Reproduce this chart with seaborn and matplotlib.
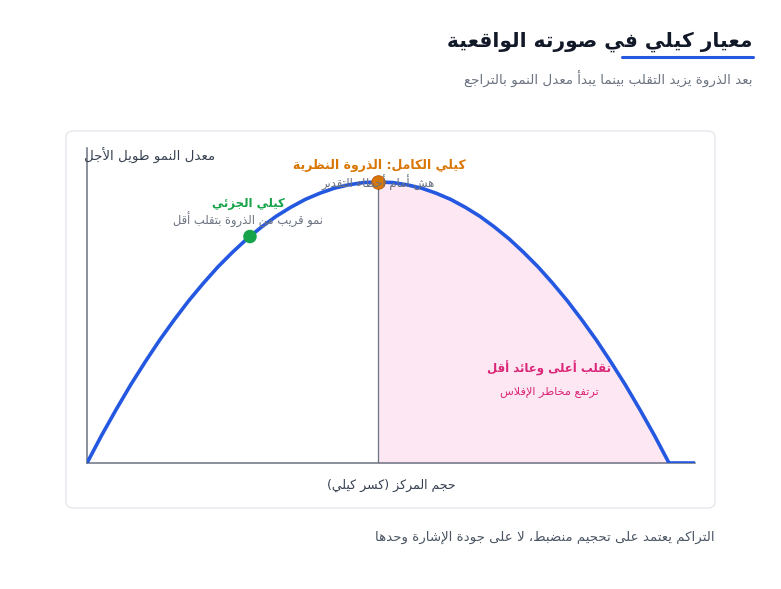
import matplotlib
matplotlib.use("Agg")
import matplotlib.pyplot as plt
import seaborn as sns
import pandas as pd
from matplotlib.patches import FancyBboxPatch

# ---- data ----
kelly_fraction = [0.0, 0.05, 0.1, 0.15, 0.2, 0.25, 0.3, 0.35, 0.4, 0.45,
                  0.5, 0.55, 0.6, 0.65, 0.7, 0.75, 0.8, 0.85, 0.9, 0.95,
                  1.0, 1.05, 1.1, 1.15, 1.2, 1.25, 1.3, 1.35, 1.4, 1.45,
                  1.5, 1.55, 1.6, 1.65, 1.7, 1.75, 1.8, 1.85, 1.9, 1.95,
                  2.0, 2.09]
growth_rate = [0.0, 0.098, 0.19, 0.278, 0.36, 0.438, 0.51, 0.578, 0.64, 0.698,
               0.75, 0.798, 0.84, 0.878, 0.91, 0.938, 0.96, 0.978, 0.99, 0.998,
               1.0, 0.998, 0.99, 0.978, 0.96, 0.938, 0.91, 0.878, 0.84, 0.798,
               0.75, 0.698, 0.64, 0.578, 0.51, 0.438, 0.36, 0.278, 0.19, 0.098,
               0.0, 0.0]
half_kelly = (0.56, 0.806)
full_kelly = (1.0, 1.0)

title = "معيار كيلي في صورته الواقعية"
subtitle = "بعد الذروة يزيد التقلب بينما يبدأ معدل النمو بالتراجع"
ylabel = "معدل النمو طويل الأجل"
xlabel = "حجم المركز (كسر كيلي)"
full_label = "كيلي الكامل: الذروة النظرية"
full_note = "هش أمام أخطاء التقدير"
half_label = "كيلي الجزئي"
half_note = "نمو قريب من الذروة بتقلب أقل"
over_label = "تقلب أعلى وعائد أقل"
over_note = "ترتفع مخاطر الإفلاس"
footer = "التراكم يعتمد على تحجيم منضبط، لا على جودة الإشارة وحدها"

# ---- minimal arabic shaping (matplotlib has no RTL/joining support) ----
FORMS = {
    'ء': (0xFE80,), 'آ': (0xFE81, 0xFE82), 'أ': (0xFE83, 0xFE84),
    'ؤ': (0xFE85, 0xFE86), 'إ': (0xFE87, 0xFE88),
    'ئ': (0xFE89, 0xFE8A, 0xFE8B, 0xFE8C), 'ا': (0xFE8D, 0xFE8E),
    'ب': (0xFE8F, 0xFE90, 0xFE91, 0xFE92), 'ة': (0xFE93, 0xFE94),
    'ت': (0xFE95, 0xFE96, 0xFE97, 0xFE98), 'ث': (0xFE99, 0xFE9A, 0xFE9B, 0xFE9C),
    'ج': (0xFE9D, 0xFE9E, 0xFE9F, 0xFEA0), 'ح': (0xFEA1, 0xFEA2, 0xFEA3, 0xFEA4),
    'خ': (0xFEA5, 0xFEA6, 0xFEA7, 0xFEA8), 'د': (0xFEA9, 0xFEAA),
    'ذ': (0xFEAB, 0xFEAC), 'ر': (0xFEAD, 0xFEAE), 'ز': (0xFEAF, 0xFEB0),
    'س': (0xFEB1, 0xFEB2, 0xFEB3, 0xFEB4), 'ش': (0xFEB5, 0xFEB6, 0xFEB7, 0xFEB8),
    'ص': (0xFEB9, 0xFEBA, 0xFEBB, 0xFEBC), 'ض': (0xFEBD, 0xFEBE, 0xFEBF, 0xFEC0),
    'ط': (0xFEC1, 0xFEC2, 0xFEC3, 0xFEC4), 'ظ': (0xFEC5, 0xFEC6, 0xFEC7, 0xFEC8),
    'ع': (0xFEC9, 0xFECA, 0xFECB, 0xFECC), 'غ': (0xFECD, 0xFECE, 0xFECF, 0xFED0),
    'ف': (0xFED1, 0xFED2, 0xFED3, 0xFED4), 'ق': (0xFED5, 0xFED6, 0xFED7, 0xFED8),
    'ك': (0xFED9, 0xFEDA, 0xFEDB, 0xFEDC), 'ل': (0xFEDD, 0xFEDE, 0xFEDF, 0xFEE0),
    'م': (0xFEE1, 0xFEE2, 0xFEE3, 0xFEE4), 'ن': (0xFEE5, 0xFEE6, 0xFEE7, 0xFEE8),
    'ه': (0xFEE9, 0xFEEA, 0xFEEB, 0xFEEC), 'و': (0xFEED, 0xFEEE),
    'ى': (0xFEEF, 0xFEF0), 'ي': (0xFEF1, 0xFEF2, 0xFEF3, 0xFEF4),
}
LAM_ALEF = {'آ': (0xFEF5, 0xFEF6), 'أ': (0xFEF7, 0xFEF8),
            'إ': (0xFEF9, 0xFEFA), 'ا': (0xFEFB, 0xFEFC)}
MIRROR = {'(': ')', ')': '('}


def shape(text):
    # merge lam + alef into ligature tokens first
    tokens = []
    i = 0
    while i < len(text):
        c = text[i]
        if c == 'ل' and i + 1 < len(text) and text[i + 1] in LAM_ALEF:
            tokens.append(('LA', text[i + 1]))
            i += 2
        else:
            tokens.append(('C', c))
            i += 1

    def joins_next(tok):
        kind, c = tok
        return kind == 'C' and c in FORMS and len(FORMS[c]) == 4

    def joins_prev(tok):
        kind, c = tok
        return kind == 'LA' or (c in FORMS and len(FORMS[c]) >= 2)

    out = []
    for k, tok in enumerate(tokens):
        prev = tokens[k - 1] if k > 0 else None
        nxt = tokens[k + 1] if k + 1 < len(tokens) else None
        link_prev = prev is not None and joins_next(prev) and joins_prev(tok)
        kind, c = tok
        if kind == 'LA':
            out.append(chr(LAM_ALEF[c][1 if link_prev else 0]))
            continue
        if c not in FORMS:
            out.append(MIRROR.get(c, c))
            continue
        f = FORMS[c]
        link_next = nxt is not None and joins_next(tok) and joins_prev(nxt)
        if len(f) == 1:
            out.append(chr(f[0]))
        elif link_prev and link_next:
            out.append(chr(f[3]))
        elif link_next:
            out.append(chr(f[2]))
        elif link_prev:
            out.append(chr(f[1]))
        else:
            out.append(chr(f[0]))
    return ''.join(reversed(out))


W, H = 781, 589
fig = plt.figure(figsize=(W / 100, H / 100), dpi=100)
fig.patch.set_facecolor('white')
sns.set_style('white')
plt.rcParams['font.family'] = ['DejaVu Sans']


def fx(px):
    return px / W


def fy(py):
    return 1 - py / H


# card behind the chart
card = FancyBboxPatch((fx(66), fy(508)), fx(715 - 66), (508 - 131) / H,
                      boxstyle='round,pad=0,rounding_size=0.01',
                      transform=fig.transFigure, facecolor='white',
                      edgecolor='#e5e7eb', linewidth=1.0, zorder=-5)
fig.patches.append(card)

ax = fig.add_axes([fx(87), fy(463), fx(695 - 87), (463 - 148) / H])
ax.set_facecolor('none')
ax.set_zorder(2)

df = pd.DataFrame({'kelly': kelly_fraction, 'growth': growth_rate})
over = df[df['kelly'] >= full_kelly[0]]
ax.fill_between(over['kelly'], 0, over['growth'], color='#fce7f3', lw=0, zorder=1)
ax.plot([full_kelly[0], full_kelly[0]], [0, full_kelly[1]], color='#6b7280',
        lw=0.9, zorder=2)
sns.lineplot(data=df, x='kelly', y='growth', ax=ax, color='#2458e0', lw=2.6,
             zorder=3, sort=False, solid_joinstyle='round')
sns.scatterplot(x=[half_kelly[0]], y=[half_kelly[1]], ax=ax, color='#16a34a',
                s=95, edgecolor='none', zorder=5)
sns.scatterplot(x=[full_kelly[0]], y=[full_kelly[1]], ax=ax, color='#d97706',
                s=95, edgecolor='#b45309', linewidth=0.6, zorder=5)

ax.set_xlim(0, 608 / 291)
ax.set_ylim(0, 315 / 281)
ax.set_xticks([])
ax.set_yticks([])
ax.set_xlabel('')
ax.set_ylabel('')
for side in ['top', 'right']:
    ax.spines[side].set_visible(False)
for side in ['left', 'bottom']:
    ax.spines[side].set_color('#6b7280')
    ax.spines[side].set_linewidth(1.1)

# annotations inside the chart
fig.text(fx(215), fy(156), shape(ylabel), ha='right', va='center',
         fontsize=9.6, color='#374151', zorder=10)
fig.text(fx(379), fy(165), shape(full_label), ha='center', va='center',
         fontsize=9, color='#d97706', fontweight='bold', zorder=10)
fig.text(fx(378), fy(183), shape(full_note), ha='center', va='center',
         fontsize=8.4, color='#6b7280', zorder=10)
fig.text(fx(248), fy(203), shape(half_label), ha='center', va='center',
         fontsize=8.5, color='#16a34a', fontweight='bold', zorder=10)
fig.text(fx(248), fy(220), shape(half_note), ha='center', va='center',
         fontsize=8.3, color='#6b7280', zorder=10)
fig.text(fx(549), fy(368), shape(over_label), ha='center', va='center',
         fontsize=8.5, color='#db2777', fontweight='bold', zorder=10)
fig.text(fx(549), fy(392), shape(over_note), ha='center', va='center',
         fontsize=8.1, color='#db2777', zorder=10)
fig.text(fx(391), fy(485), shape(xlabel), ha='center', va='center',
         fontsize=9, color='#374151', zorder=10)

# title block
fig.text(fx(752), fy(42), shape(title), ha='right', va='center',
         fontsize=14.5, fontweight='bold', color='#111827')
fig.add_artist(plt.Line2D([fx(622), fx(753)], [fy(57), fy(57)],
                          transform=fig.transFigure, color='#2458e0', lw=2.2))
fig.text(fx(752), fy(79), shape(subtitle), ha='right', va='center',
         fontsize=9.7, color='#6b7280')
fig.text(fx(715), fy(537), shape(footer), ha='right', va='center',
         fontsize=9.65, color='#4b5563')

fig.savefig('out.png', dpi=100, facecolor='white')
